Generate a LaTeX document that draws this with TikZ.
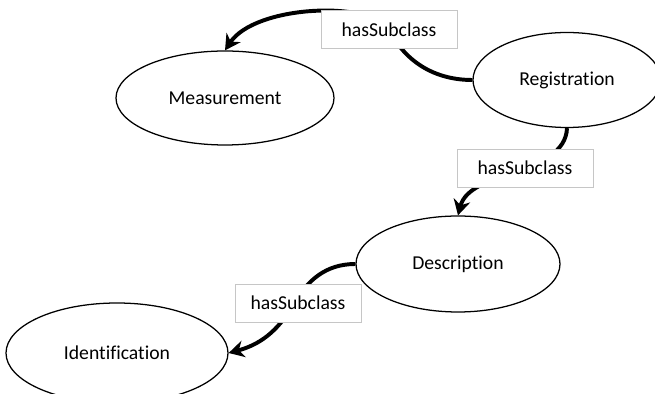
\documentclass[tikz,border=0pt]{standalone}
\usepackage{fontspec}
\setmainfont{Carlito}[Ligatures={NoCommon}]
\usetikzlibrary{arrows.meta,backgrounds,shapes.geometric}

\begin{document}
\begin{tikzpicture}[
	every node/.style = {font=\fontsize{14}{17}\selectfont},
	cls/.style = {draw, ellipse, line width=0.9pt, inner sep=0pt},
	rel/.style = {draw=gray!45, fill=white, line width=0.6pt, minimum height=0.95cm, inner sep=0pt},
	sub/.style = {line width=2.8pt, -{Stealth[length=11pt,width=12pt]}}
	]
	
	\useasboundingbox (0,0) rectangle (16.375,9.85);
	\clip (0,0) rectangle (16.375,9.85);
	
	% classes
	\node[cls, minimum width=5.45cm, minimum height=2.35cm] (mea) at (5.625,7.4) {Measurement};
	\node[cls, minimum width=4.7cm, minimum height=2.375cm] (reg) at (14.175,7.85) {Registration};
	\node[cls, minimum width=5.1cm, minimum height=2.4cm] (des) at (11.45,3.25) {Description};
	\node[cls, minimum width=5.55cm, minimum height=2.5cm] (ide) at (2.925,1.025) {Identification};
	
	% relation labels
	\node[rel, minimum width=3.4cm] (sub1) at (9.725,9.11) {hasSubclass\hspace{0.3cm}};
	\node[rel, minimum width=3.4cm] (sub2) at (13.125,5.65) {hasSubclass\hspace{0.3cm}};
	\node[rel, minimum width=3.15cm] (sub3) at (7.45,2.275) {hasSubclass};
	
	\begin{scope}[on background layer]
	\draw[sub] (reg.west) .. controls +(-1,0) and +(0.375,-0.75) .. (sub1.center)
		.. controls +(-0.475,0.74) and +(0.75,1.125) .. (mea.north);
	\draw[sub] (reg.south) .. controls +(-0.05,-1.19) and +(0.3,1.15) .. (des.north);
	\draw[sub] (des.west) to[out=180,in=60] ([shift={(-0.125,-0.05)}]sub3.center)
		to[out=240,in=15] (ide.east);
	\end{scope}
\end{tikzpicture}
\end{document}
